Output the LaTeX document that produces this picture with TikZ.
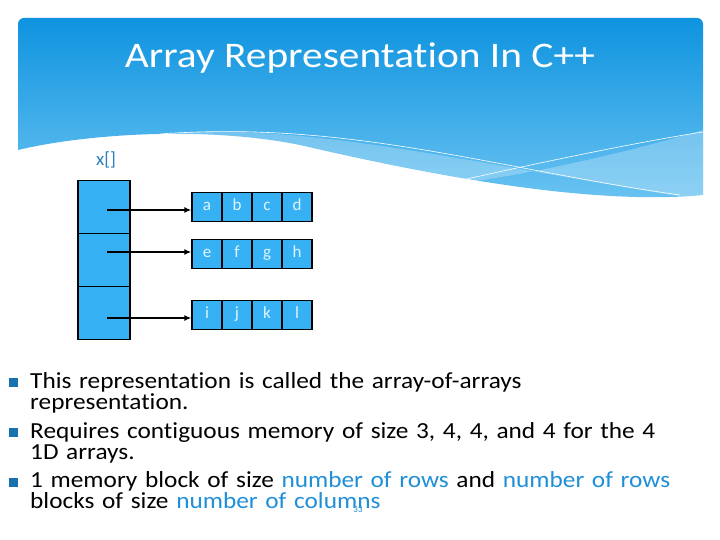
\documentclass[tikz,border=0pt]{standalone}
\usepackage{fontspec}
\setmainfont{Carlito}[Ligatures=NoCommon]
\newfontfamily\widefont{Carlito}[Ligatures=NoCommon,FakeStretch=1.1]
\newfontfamily\titlefont{Carlito}[Ligatures=NoCommon,FakeStretch=1.15]
\usetikzlibrary{arrows.meta}
\definecolor{hdrtop}{HTML}{0E93DF}
\definecolor{hdrbot}{HTML}{6CC4F2}
\definecolor{cellblue}{HTML}{36B2F4}
\definecolor{hl}{HTML}{1F8FD8}
\definecolor{xlab}{HTML}{2C7FB8}
\tikzset{cellbox/.style={draw=black,line width=1.3pt,fill=cellblue,minimum width=30pt,minimum height=29pt,inner sep=0pt,text height=10pt,text depth=3pt,text=white!85!cellblue,font=\fontsize{17}{17}\selectfont},
ptr/.style={draw=black,line width=1.3pt,fill=cellblue,minimum width=52pt,minimum height=53pt,inner sep=0pt},
arr/.style={line width=1.4pt,-{Latex[length=7pt,width=6pt]}},
btxt/.style={anchor=north west,align=left,font=\widefont\fontsize{23}{21}\selectfont,text width=690pt,inner sep=0pt}}
\begin{document}
\begin{tikzpicture}[x=1pt,y=-1pt]
\useasboundingbox (0,0) rectangle (720,540);
\fill[white] (0,0) rectangle (720,540);
% header
\begin{scope}
\clip[rounded corners=6pt] (18,18) rectangle (703,230);
\shade[top color=hdrtop,bottom color=hdrbot] (18,18) -- (703,18) -- (703,195) .. controls (600,205) and (450,180) .. (300,145) .. controls (200,125) and (80,135) .. (18,150) -- cycle;
\fill[white,opacity=0.25] (150,135) .. controls (300,120) and (450,160) .. (703,200) -- (703,130) .. controls (600,160) and (500,180) .. (440,185) .. controls (350,170) and (250,135) .. (150,135) -- cycle;
\draw[white,line width=0.6pt] (160,134) .. controls (350,120) and (500,170) .. (680,195);
\draw[white,line width=0.6pt] (440,185) .. controls (550,160) and (650,140) .. (703,132);
\end{scope}
\node[text=white,font=\titlefont\fontsize{36}{36}\selectfont] (title) at (360,58) {Array Representation In C++};
\node[text=xlab,font=\fontsize{19}{19}\selectfont] (xl) at (106,160) {x[]};
% pointer column
\node[ptr] (p1) at (104,207) {};
\node[ptr] (p2) at (104,260) {};
\node[ptr] (p3) at (104,313) {};
\foreach \r/\y/\la/\lb/\lc/\ld in {1/207/a/b/c/d,2/254/e/f/g/h,3/315/i/j/k/l}{
\node[cellbox] (c\r a) at (207,\y) {\la};
\node[cellbox] (c\r b) at (237,\y) {\lb};
\node[cellbox] (c\r c) at (267,\y) {\lc};
\node[cellbox] (c\r d) at (297,\y) {\ld};
}
\coordinate (s1) at (107,210);
\coordinate (s2) at (107,252);
\coordinate (s3) at (107,318);
\draw[arr] (s1) -- (s1 -| c1a.west);
\draw[arr] (s2) -- (s2 -| c2a.west);
\draw[arr] (s3) -- (s3 -| c3a.west);
% bullets
\node[btxt] (b1) at (30,372) {This representation is called the array-of-arrays\\representation.};
\node[btxt] (b2) at (30,422) {Requires contiguous memory of size 3, 4, 4, and 4 for the 4\\1D arrays.};
\node[btxt] (b3) at (30,471) {1 memory block of size \textcolor{hl}{number of rows} and \textcolor{hl}{number of rows}\\blocks of size \textcolor{hl}{number of columns}};
\foreach \y in {384,434,484}{\fill[hl!80!black] (9,\y-6) rectangle (18,\y+3);}
\node[font=\fontsize{9}{9}\selectfont,text=hl] (pg) at (358,510) {33};
\end{tikzpicture}
\end{document}
